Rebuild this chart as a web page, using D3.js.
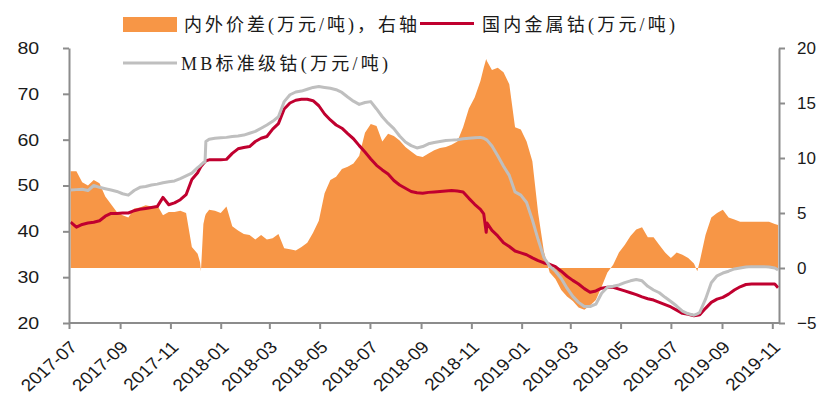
<!DOCTYPE html>
<html>
<head>
<meta charset="utf-8">
<script src="https://cdn.jsdelivr.net/npm/d3@7/dist/d3.min.js"></script>
<style>
  html, body { margin: 0; padding: 0; background: #fff; }
  svg { display: block; }
</style>
</head>
<body>
<svg id="chart" width="819" height="405"></svg>
<script>
// Weekly observation dates (plus a few intra-week points around sharp moves)
const dates = [
  "2017-07-03","2017-07-10","2017-07-17","2017-07-24","2017-07-31","2017-08-07","2017-08-14","2017-08-21","2017-08-28",
  "2017-09-04","2017-09-11","2017-09-18","2017-09-25","2017-10-02","2017-10-09","2017-10-16","2017-10-23","2017-10-30",
  "2017-11-06","2017-11-13","2017-11-20","2017-11-27","2017-12-04","2017-12-07","2017-12-08","2017-12-11","2017-12-13",
  "2017-12-14","2017-12-18","2017-12-25","2018-01-01","2018-01-08","2018-01-15","2018-01-22","2018-01-29","2018-02-05",
  "2018-02-12","2018-02-19","2018-02-26","2018-03-05","2018-03-12","2018-03-19","2018-03-26","2018-04-02","2018-04-09",
  "2018-04-16","2018-04-23","2018-04-30","2018-05-07","2018-05-14","2018-05-21","2018-05-28","2018-06-04","2018-06-11",
  "2018-06-18","2018-06-25","2018-07-02","2018-07-09","2018-07-16","2018-07-23","2018-07-30","2018-08-06","2018-08-13",
  "2018-08-20","2018-08-27","2018-09-03","2018-09-10","2018-09-17","2018-09-24","2018-10-01","2018-10-08","2018-10-15",
  "2018-10-22","2018-10-29","2018-11-05","2018-11-12","2018-11-16","2018-11-19","2018-11-20","2018-11-26","2018-12-03",
  "2018-12-10","2018-12-17","2018-12-24","2018-12-31","2019-01-07","2019-01-14","2019-01-21","2019-01-28","2019-02-04",
  "2019-02-11","2019-02-18","2019-02-25","2019-03-04","2019-03-11","2019-03-18","2019-03-25","2019-04-01","2019-04-08",
  "2019-04-15","2019-04-22","2019-04-29","2019-05-06","2019-05-13","2019-05-20","2019-05-27","2019-06-03","2019-06-10",
  "2019-06-17","2019-06-24","2019-07-01","2019-07-08","2019-07-15","2019-07-22","2019-07-29","2019-08-02","2019-08-05",
  "2019-08-12","2019-08-19","2019-08-26","2019-09-02","2019-09-09","2019-09-16","2019-09-23","2019-09-30","2019-10-07",
  "2019-10-14","2019-10-21","2019-10-28","2019-11-04","2019-11-08"
];

// 内外价差 (万元/吨), right axis
const spread = [
  8.8, 8.8, 7.8, 7.5, 8.0, 7.7, 6.5, 5.8, 5.1,
  4.8, 4.6, 5.4, 5.5, 5.7, 5.6, 5.7, 4.8, 5.1,
  5.1, 5.2, 5.0, 1.9, 1.3, 0.5, -0.3, 4.0, 4.7,
  4.9, 5.3, 5.2, 5.0, 5.6, 3.8, 3.4, 3.1, 3.0,
  2.6, 3.0, 2.6, 2.7, 3.1, 1.8, 1.7, 1.6, 1.9,
  2.3, 3.2, 4.3, 6.8, 8.0, 8.3, 9.0, 9.2, 9.5,
  10.2, 12.3, 13.1, 12.9, 11.5, 12.2, 12.0, 11.6, 11.0,
  10.6, 10.2, 10.1, 10.4, 10.7, 10.9, 11.0, 11.2, 11.5,
  12.8, 14.5, 15.5, 17.0, 18.2, 19.0, 18.8, 18.0, 18.2,
  17.8, 16.7, 12.8, 12.6, 11.5, 9.7, 5.0, 1.5, -0.4,
  -1.0, -2.0, -2.6, -3.0, -3.6, -3.8, -3.4, -2.9, -1.7,
  -0.4, 0.3, 1.4, 2.1, 2.9, 3.5, 3.7, 2.8, 2.8,
  2.1, 1.4, 0.9, 1.4, 1.2, 0.9, 0.4, -0.3, 0.6,
  3.0, 4.6, 5.0, 5.3, 4.6, 4.4, 4.2, 4.2, 4.2,
  4.2, 4.2, 4.2, 4.0, 3.9
];

// 国内金属钴 (万元/吨), left axis
const domestic = [
  42.0, 40.9, 41.5, 41.8, 42.0, 42.3, 43.3, 43.9, 43.9,
  44.0, 44.0, 44.5, 44.8, 45.0, 45.2, 45.4, 47.4, 45.8,
  46.2, 46.9, 48.0, 51.3, 52.8, 53.8, 54.1, 54.8, 55.2,
  55.4, 55.6, 55.6, 55.6, 55.7, 57.0, 58.0, 58.3, 58.5,
  59.6, 60.3, 60.7, 62.3, 63.5, 66.7, 68.0, 68.6, 68.8,
  68.8, 68.5, 67.4, 65.6, 64.3, 63.2, 62.5, 61.3, 60.2,
  58.7, 57.3, 55.8, 54.4, 53.4, 52.5, 51.1, 50.1, 49.4,
  48.7, 48.4, 48.3, 48.5, 48.6, 48.7, 48.8, 48.9, 48.8,
  48.6, 47.2, 45.9, 44.8, 43.8, 39.8, 41.8, 40.2, 39.0,
  37.5, 36.7, 35.7, 35.3, 34.9, 34.2, 33.6, 33.1, 32.8,
  32.3, 31.3, 30.2, 29.3, 28.5, 27.5, 26.7, 27.0, 27.6,
  27.8, 27.8, 27.4, 27.0, 26.6, 26.2, 25.7, 25.3, 25.0,
  24.5, 24.0, 23.5, 22.8, 22.1, 21.9, 21.6, 21.7, 21.8,
  23.2, 24.5, 25.2, 25.6, 26.3, 27.2, 27.9, 28.4, 28.5,
  28.5, 28.5, 28.5, 28.5, 27.7
];

// MB标准级钴 (万元/吨), left axis
const mbStd = [
  49.0, 49.1, 49.2, 48.9, 50.0, 49.6, 49.3, 49.0, 48.7,
  48.2, 47.9, 48.9, 49.6, 49.8, 50.1, 50.3, 50.6, 50.8,
  51.0, 51.5, 52.1, 52.7, 53.9, 54.3, 54.5, 55.0, 55.2,
  59.6, 60.1, 60.3, 60.4, 60.5, 60.7, 60.8, 61.0, 61.4,
  61.8, 62.5, 63.2, 64.0, 65.0, 68.3, 69.8, 70.4, 70.6,
  71.0, 71.4, 71.6, 71.4, 71.2, 70.9, 70.3, 69.3, 68.4,
  67.7, 68.1, 68.3, 66.7, 65.0, 63.6, 62.4, 60.8, 59.5,
  58.7, 58.2, 58.5, 59.1, 59.4, 59.6, 59.8, 59.9, 60.0,
  60.2, 60.3, 60.4, 60.5, 60.3, 60.0, 59.9, 58.6, 56.5,
  54.2, 52.2, 48.6, 47.9, 46.3, 42.5, 38.2, 34.3, 32.4,
  31.3, 29.7, 27.6, 25.8, 24.5, 23.6, 23.6, 24.1, 26.5,
  27.8, 28.0, 28.3, 28.8, 29.2, 29.5, 29.2, 28.0, 27.2,
  26.6, 25.6, 24.7, 23.7, 22.6, 22.0, 21.7, 22.0, 22.3,
  25.2, 28.8, 30.3, 30.9, 31.3, 31.8, 32.0, 32.2, 32.3,
  32.3, 32.3, 32.2, 32.0, 31.6
];

const xTickLabels = ["2017-07","2017-09","2017-11","2018-01","2018-03","2018-05","2018-07",
  "2018-09","2018-11","2019-01","2019-03","2019-05","2019-07","2019-09","2019-11"];
const leftTicks = [20, 30, 40, 50, 60, 70, 80];
const rightTicks = [-5, 0, 5, 10, 15, 20];
const legendLabels = ["内外价差(万元/吨)，右轴", "国内金属钴(万元/吨)", "MB标准级钴(万元/吨)"];

const colors = { spread: "#F79646", domestic: "#C0002F", mb: "#BFBFBF", axis: "#8C8C8C", text: "#1A1A1A" };

const parseDay = d3.timeParse("%Y-%m-%d");
const parseMonth = d3.timeParse("%Y-%m");
const fmtMonth = d3.timeFormat("%Y-%m");

const rows = dates.map((d, i) => ({
  date: parseDay(d), spread: spread[i], domestic: domestic[i], mb: mbStd[i]
}));

const svg = d3.select("#chart");

const plot = { left: 69, right: 779, top: 48, bottom: 323 };

const x = d3.scaleTime()
  .domain([parseMonth("2017-07"), parseMonth("2019-11")])
  .range([plot.left, 772.3]);
const yL = d3.scaleLinear().domain([20, 80]).range([plot.bottom, plot.top]);
const yR = d3.scaleLinear().domain([-5, 20]).range([plot.bottom, plot.top]);

// spread area, filled against the zero line of the right axis
const area = d3.area()
  .x(d => x(d.date))
  .y0(yR(0))
  .y1(d => yR(d.spread));

svg.append("path")
  .datum(rows)
  .attr("d", area)
  .attr("fill", colors.spread);

const lineDomestic = d3.line().x(d => x(d.date)).y(d => yL(d.domestic));
const lineMb = d3.line().x(d => x(d.date)).y(d => yL(d.mb));

svg.append("path")
  .datum(rows)
  .attr("d", lineDomestic)
  .attr("fill", "none")
  .attr("stroke", colors.domestic)
  .attr("stroke-width", 3)
  .attr("stroke-linejoin", "round");

svg.append("path")
  .datum(rows)
  .attr("d", lineMb)
  .attr("fill", "none")
  .attr("stroke", colors.mb)
  .attr("stroke-width", 3)
  .attr("stroke-linejoin", "round");

// axes
const tickFont = "'Liberation Sans', Arial, sans-serif";

function styleAxis(g) {
  g.selectAll(".domain").attr("stroke", colors.axis).attr("stroke-width", 2);
  g.selectAll(".tick line").attr("stroke", colors.axis).attr("stroke-width", 2);
  g.selectAll(".tick text")
    .attr("fill", colors.text)
    .style("font-family", tickFont)
    .style("font-size", "17px");
}

const gLeft = svg.append("g")
  .attr("transform", `translate(${plot.left},0)`)
  .call(d3.axisLeft(yL).tickValues(leftTicks).tickSize(6).tickSizeOuter(0).tickPadding(20));
styleAxis(gLeft);
gLeft.selectAll(".tick text").attr("transform", "scale(1.15,1)");

const gRight = svg.append("g")
  .attr("transform", `translate(${plot.right},0)`)
  .call(d3.axisRight(yR).tickValues(rightTicks).tickSize(6).tickSizeOuter(0).tickPadding(12));
styleAxis(gRight);

const gBottom = svg.append("g")
  .attr("transform", `translate(0,${plot.bottom})`)
  .call(d3.axisBottom(x)
    .tickValues(xTickLabels.map(parseMonth))
    .tickFormat(fmtMonth)
    .tickSize(6)
    .tickSizeOuter(0));
styleAxis(gBottom);
gBottom.select(".domain").remove();
gBottom.append("line")
  .attr("x1", plot.left).attr("x2", plot.right)
  .attr("y1", 0).attr("y2", 0)
  .attr("stroke", colors.axis).attr("stroke-width", 2);
gBottom.selectAll(".tick text")
  .attr("x", 0).attr("y", 0).attr("dy", "0.35em")
  .attr("text-anchor", "end")
  .attr("transform", "translate(4,21) scale(1.12,1) rotate(-45)");

// legend
const legendFont = "'Liberation Serif', 'Noto Sans CJK SC', serif";
const legend = svg.append("g").style("font-family", legendFont).style("font-size", "18px").attr("fill", colors.text);

legend.append("rect").attr("x", 123).attr("y", 17).attr("width", 54).attr("height", 15).attr("fill", colors.spread);
legend.append("text").attr("x", 184).attr("y", 31).attr("textLength", 233).attr("lengthAdjust", "spacing").text(legendLabels[0]);

legend.append("line").attr("x1", 420).attr("x2", 474).attr("y1", 23.5).attr("y2", 23.5)
  .attr("stroke", colors.domestic).attr("stroke-width", 3);
legend.append("text").attr("x", 482).attr("y", 31).attr("textLength", 193).attr("lengthAdjust", "spacing").text(legendLabels[1]);

legend.append("line").attr("x1", 123).attr("x2", 177).attr("y1", 63).attr("y2", 63)
  .attr("stroke", colors.mb).attr("stroke-width", 3);
legend.append("text").attr("x", 181).attr("y", 70).attr("textLength", 207).attr("lengthAdjust", "spacing").text(legendLabels[2]);
</script>
</body>
</html>
